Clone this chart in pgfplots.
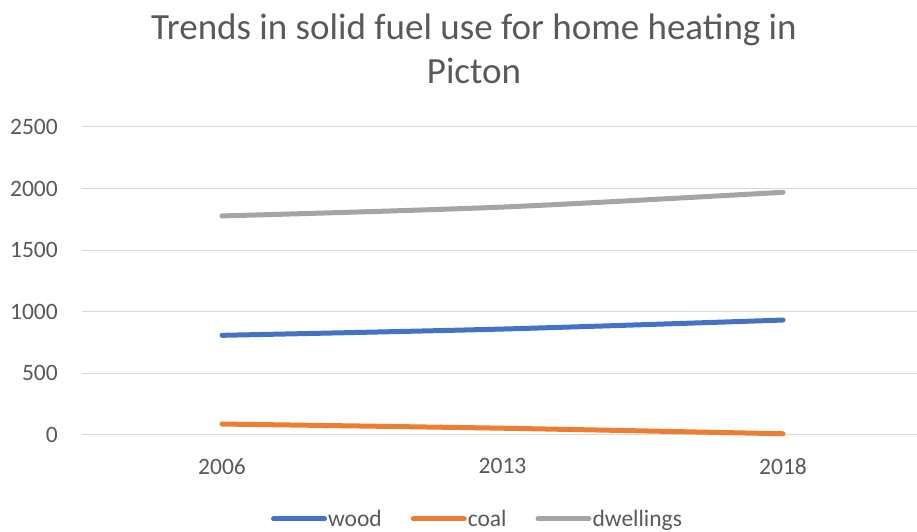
\documentclass[border=0pt]{standalone}
\usepackage{pgfplots}
\pgfplotsset{compat=1.18}
\usepackage{fontspec}
\setmainfont{Carlito}
\definecolor{txt}{HTML}{595959}
\definecolor{gridc}{HTML}{D9D9D9}
\definecolor{woodc}{HTML}{4472C4}
\definecolor{coalc}{HTML}{ED7D31}
\definecolor{dwellc}{HTML}{A5A5A5}
\begin{document}
\begin{tikzpicture}[x=1bp,y=1bp]
\useasboundingbox (0,0) rectangle (917,532);
\node[anchor=base, text=txt, inner sep=0pt, font=\fontsize{37bp}{44bp}\selectfont] at (474,492) {Trends in solid fuel use for home heating in};
\node[anchor=base, text=txt, inner sep=0pt, font=\fontsize{37bp}{44bp}\selectfont] at (474,448) {Picton};
\begin{axis}[
    at={(81.75bp,97bp)}, anchor=south west,
    scale only axis, width=841.5bp, height=308bp,
    xmin=-0.5, xmax=2.5, ymin=0, ymax=2500,
    xtick={0,1,2}, xticklabels={2006,2013,2018},
    ytick={0,500,...,2500},
    ymajorgrids, grid style={draw=gridc, line width=1bp},
    axis line style={draw=none},
    major tick length=0pt,
    /pgf/number format/assume math mode=true,
    /pgf/number format/1000 sep={},
    tick label style={font=\fontsize{23.5bp}{28bp}\selectfont, text=txt, inner sep=0pt},
    yticklabel style={anchor=east, xshift=-23.75bp},
    xticklabel style={anchor=north, yshift=-23.5bp},
    clip=false,
    legend columns=3,
    legend style={at={(axis description cs:0.4697,-0.2727)}, anchor=center,
        draw=none, fill=none, text=txt,
        font=\fontsize{23.5bp}{28bp}\selectfont,
        nodes={inner sep=1bp},
        /tikz/every even column/.append style={column sep=28bp}},
    legend image code/.code={\draw[line width=5bp, line cap=round] (0bp,0bp) -- (51bp,0bp);},
]
\addplot[smooth, line width=5bp, line cap=round, color=woodc] coordinates {(0,809) (1,860) (2,933)};
\addplot[smooth, line width=5bp, line cap=round, color=coalc] coordinates {(0,89) (1,55) (2,10)};
\addplot[smooth, line width=5bp, line cap=round, color=dwellc] coordinates {(0,1778) (1,1850) (2,1970)};
\legend{wood,coal,dwellings}
\end{axis}
\end{tikzpicture}
\end{document}
